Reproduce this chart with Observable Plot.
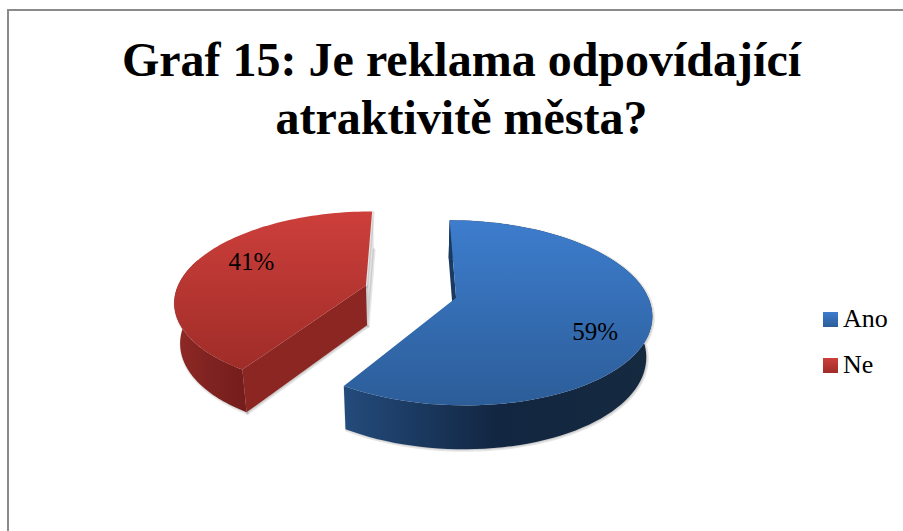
<!DOCTYPE html>
<html>
<head>
<meta charset="utf-8">
<script src="https://cdn.jsdelivr.net/npm/d3@7"></script>
<script src="https://cdn.jsdelivr.net/npm/@observablehq/plot@0.6"></script>
<style>
html,body{margin:0;padding:0;background:#fff;width:903px;height:531px;overflow:hidden;font-family:"Liberation Serif",serif;color:#000}
#frame{position:absolute;left:7px;top:9px;right:-4px;bottom:-4px;border:2px solid #8b8b8b;pointer-events:none}
#title{position:absolute;left:0;top:0;width:923px;height:146px;text-align:center;font-weight:bold;font-size:48px;line-height:58px;box-sizing:border-box}
#title div{position:relative;top:31px}
#chart{position:absolute;left:0;top:146px}
#legend{position:absolute;left:823px;top:296px;font-size:26px;line-height:46px}
#legend .row{display:flex;align-items:center;height:46px}
#legend .sw{width:15px;height:15px;margin-right:5px;display:inline-block}
</style>
</head>
<body>
<div id="title"><div>Graf 15: Je reklama odpovídající<br>atraktivitě města?</div></div>
<div id="chart"></div>
<div id="legend"></div>
<div id="frame"></div>
<script>
const categories = ["Ano", "Ne"];
const values = [59, 41];
const labels = ["59%", "41%"];
const topColors = [["#3d7dcd", "#2c5d99"], ["#cd3f3b", "#9f2c28"]];
const edgeColors = ["#1b3a61", "#8c2623"];
const wallColors = [["#234b7c", "#122641", "#15293f"], ["#8f2926", "#7f2320", "#741d1b"]];
const labelNudge = [[0, 16], [10, -7]];

// pie geometry, in units of the pie radius
const explode = 0.247, persp = 0.163, tilt = 88 / 190, depth = 40 / 190, shrink = 0.975;
const W = 903, H = 385, T = 146, Cx = 410, Cy = 291, R = 190;
const frontLimit = 1.6 * Math.PI; // the wall behind this angle is hidden by the top face

const total = d3.sum(values);
let acc = 0;
const slices = categories.map((name, i) => {
  const a0 = acc / total * 2 * Math.PI;
  acc += values[i];
  const a1 = acc / total * 2 * Math.PI;
  const mid = (a0 + a1) / 2;
  return {name, i, a0, a1, mid, ox: explode * Math.sin(mid), oy: -explode * Math.cos(mid)};
});
function proj(s, a, r = 1) {
  const u = s.ox + r * Math.sin(a), v = s.oy - r * Math.cos(a);
  const k = 1 / (1 - persp * v);
  return {x: u * k, y: v * k * tilt};
}
const low = p => ({x: p.x * shrink, y: p.y * 1.034 + depth});
function arc(s, end = s.a1) {
  const n = 90;
  return d3.range(n + 1).map(j => proj(s, s.a0 + (end - s.a0) * j / n));
}
const surface = s => [proj(s, 0, 0), ...arc(s)];
const outerWall = s => { const a = arc(s, Math.min(s.a1, frontLimit)); return [...a, ...a.map(low).reverse()]; };
const flat = (p, q) => [p, q, low(q), low(p)];

const [blue, red] = slices;
const xy = {x: "x", y: "y"};
const gid = (k, i) => `${k}${i}`;
const shadow = {...xy, fill: "#000", fillOpacity: 0.1, stroke: "#000", strokeOpacity: 0.1, strokeWidth: 3, dx: 1, dy: 1};

const plot = Plot.plot({
  width: W, height: H, margin: 0,
  x: {axis: null, domain: [-Cx / R, (W - Cx) / R], range: [0, W]},
  y: {axis: null, domain: [(T - Cy) / R, (T + H - Cy) / R], range: [0, H]},
  style: {background: "transparent"},
  marks: [
    // red
    Plot.line(flat(proj(red, red.a1), proj(red, 0, 0)), shadow),
    Plot.line(outerWall(red), shadow),
    Plot.line(flat(proj(red, 0, 0), proj(red, red.a0)), shadow),
    Plot.line(outerWall(red), {...xy, fill: "url(#wall1)", stroke: "none"}),
    Plot.line(flat(proj(red, 0, 0), proj(red, red.a0)), {...xy, fill: edgeColors[1], stroke: "none"}),
    Plot.line(surface(red), {...xy, fill: "url(#top1)", stroke: "none"}),
    // blue
    Plot.line(outerWall(blue), shadow),
    Plot.line(outerWall(blue), {...xy, fill: "url(#wall0)", stroke: "none"}),
    Plot.line(flat(proj(blue, blue.a0), proj(blue, 0, 0)), {...xy, fill: edgeColors[0], stroke: "none"}),
    Plot.line(surface(blue), {...xy, fill: "url(#top0)", stroke: "none"}),
    // labels
    ...slices.map(s => {
      const p = proj(s, s.mid, 0.72);
      return Plot.text([p], {...xy, text: () => labels[s.i], fontSize: 25, fontFamily: "Liberation Serif", fill: "#000",
        dx: labelNudge[s.i][0], dy: labelNudge[s.i][1]});
    })
  ]
});

const ns = "http://www.w3.org/2000/svg";
const defs = document.createElementNS(ns, "defs");
function grad(id, stops, horizontal) {
  const g = document.createElementNS(ns, "linearGradient");
  g.setAttribute("id", id);
  g.setAttribute("x1", 0); g.setAttribute("y1", 0);
  g.setAttribute("x2", horizontal ? 1 : 0); g.setAttribute("y2", horizontal ? 0 : 1);
  stops.forEach((c, i) => {
    const st = document.createElementNS(ns, "stop");
    st.setAttribute("offset", i / (stops.length - 1));
    st.setAttribute("stop-color", c);
    g.appendChild(st);
  });
  defs.appendChild(g);
}
slices.forEach(s => {
  grad(gid("top", s.i), topColors[s.i], false);
  grad(gid("wall", s.i), wallColors[s.i], true);
});
plot.insertBefore(defs, plot.firstChild);
document.getElementById("chart").appendChild(plot);

const legend = d3.select("#legend");
categories.forEach((c, i) => {
  const row = legend.append("div").attr("class", "row");
  row.append("span").attr("class", "sw").style("background", `linear-gradient(${topColors[i][0]},${topColors[i][1]})`);
  row.append("span").text(c);
});
</script>
</body>
</html>
